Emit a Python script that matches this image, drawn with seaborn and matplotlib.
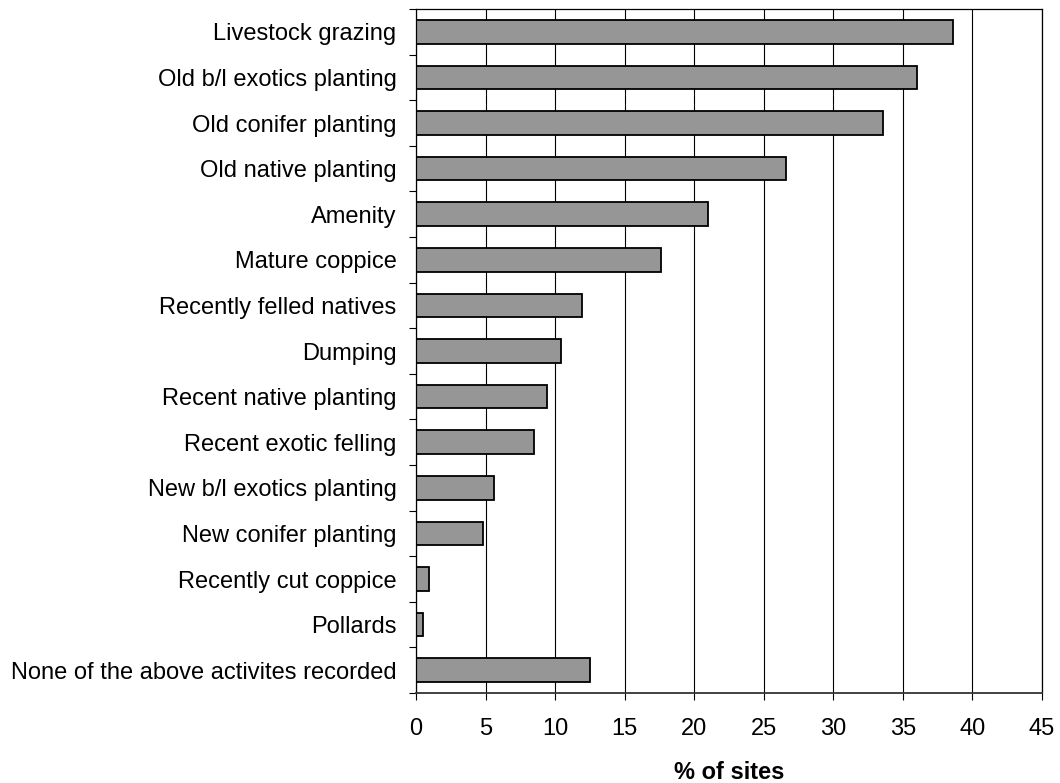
import numpy as np
import matplotlib
matplotlib.use("Agg")
import matplotlib.pyplot as plt
import seaborn as sns
from matplotlib.ticker import FixedLocator, MultipleLocator

# Activities recorded at sites (top to bottom as drawn)
activities = [
    "Livestock grazing",
    "Old b/l exotics planting",
    "Old conifer planting",
    "Old native planting",
    "Amenity",
    "Mature coppice",
    "Recently felled natives",
    "Dumping",
    "Recent native planting",
    "Recent exotic felling",
    "New b/l exotics planting",
    "New conifer planting",
    "Recently cut coppice",
    "Pollards",
    "None of the above activites recorded",
]
pct_sites = [38.6, 36.0, 33.6, 26.6, 21.0, 17.6, 11.9, 10.4,
             9.45, 8.5, 5.6, 4.8, 0.9, 0.5, 12.5]

sns.set_style("white")
plt.rcParams["font.family"] = ["Liberation Sans", "DejaVu Sans"]
plt.rcParams["text.color"] = "black"
plt.rcParams["xtick.color"] = "black"
plt.rcParams["ytick.color"] = "black"
plt.rcParams["axes.labelcolor"] = "black"

fig = plt.figure(figsize=(10.6, 7.83), dpi=100)
ax = fig.add_axes([0.3925, 0.1149, 0.5903, 0.8736])

sns.barplot(x=pct_sites, y=activities, orient="h", color="#969696",
            saturation=1, width=0.52, edgecolor="black", linewidth=1.3, ax=ax)

ax.set_xlim(0, 45)
ax.set_ylim(len(activities) - 0.5, -0.5)

# vertical gridlines
ax.xaxis.set_major_locator(MultipleLocator(5))
ax.set_axisbelow(True)
ax.grid(True, axis="x", color="black", linewidth=0.8)
ax.grid(False, axis="y")

# y ticks sit between categories
ax.tick_params(axis="y", which="major", length=0, pad=14, labelsize=17)
ax.yaxis.set_minor_locator(FixedLocator(np.arange(-0.5, len(activities), 1.0)))
ax.tick_params(axis="y", which="minor", length=5, width=0.8, color="black",
               direction="out", left=True)
ax.tick_params(axis="x", which="major", length=5, width=0.8, color="black",
               direction="out", bottom=True, pad=13, labelsize=17)

for side in ["left", "bottom", "top", "right"]:
    ax.spines[side].set_visible(True)
    ax.spines[side].set_color("black")
    ax.spines[side].set_linewidth(0.9)
ax.spines["bottom"].set_color("#333333")
ax.spines["bottom"].set_linewidth(1.3)

ax.set_ylabel("")
ax.set_xlabel("% of sites", fontsize=17, fontweight="bold", labelpad=15)

fig.savefig("out.png", dpi=100)
